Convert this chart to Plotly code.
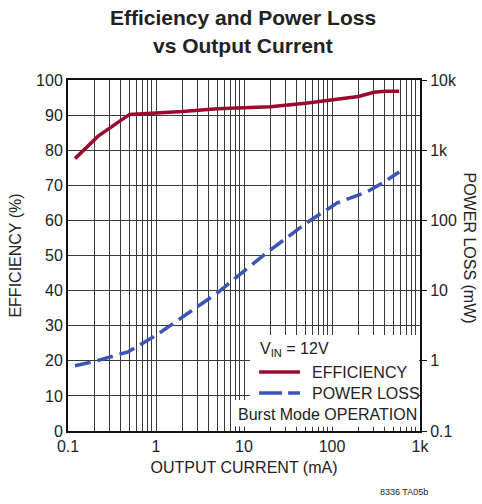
import plotly.graph_objects as go

# Output current (mA) and measured efficiency (%)
eff_current = [0.12, 0.22, 0.5, 1, 2, 5, 10, 20, 50, 100, 200, 300, 400, 580]
efficiency = [77.6, 84.0, 90.2, 90.6, 91.0, 91.8, 92.2, 92.4, 93.4, 94.4, 95.3, 96.5, 96.8, 96.8]

# Output current (mA) and power loss (mW)
loss_current = [0.12, 0.2, 0.48, 1, 2, 5, 10, 20, 50, 115, 250, 380, 580]
power_loss = [0.85, 0.98, 1.34, 2.3, 4.2, 9.3, 19, 38, 90, 178, 256, 345, 490]

x_tickvals = [0.1, 1, 10, 100, 1000]
x_ticktext = ["0.1", "1", "10", "100", "1k"]
y2_tickvals = [0.1, 1, 10, 100, 1000, 10000]
y2_ticktext = ["0.1", "1", "10", "100", "1k", "10k"]

# 2..9 subdivisions of every decade on the current axis
x_minor = [m * 10.0 ** e for e in range(-1, 3) for m in range(2, 10)]

FONT = "Liberation Sans, Arial, sans-serif"
GRID = "#3a3a3a"
EFF_COLOR = "#9b0a2e"
LOSS_COLOR = "#3a55b4"

fig = go.Figure()
fig.add_trace(go.Scatter(
    x=eff_current, y=efficiency, mode="lines", name="EFFICIENCY",
    line=dict(color=EFF_COLOR, width=3.5), yaxis="y",
))
fig.add_trace(go.Scatter(
    x=loss_current, y=power_loss, mode="lines", name="POWER LOSS",
    line=dict(color=LOSS_COLOR, width=3.5, dash="16px,7px"), yaxis="y2",
))

fig.update_layout(
    width=482, height=504,
    margin=dict(l=68, r=62, t=80, b=73),
    paper_bgcolor="white", plot_bgcolor="white",
    font=dict(family=FONT, size=16, color="#222"),
    showlegend=False,
    xaxis=dict(
        type="log", range=[-1, 3],
        tickvals=x_tickvals, ticktext=x_ticktext,
        ticks="inside", ticklen=4, tickcolor=GRID,
        showgrid=True, gridcolor=GRID, gridwidth=1,
        minor=dict(tickmode="array", tickvals=x_minor,
                   showgrid=True, gridcolor=GRID, gridwidth=1,
                   ticks="inside", ticklen=4, tickcolor=GRID),
        showline=True, linecolor="#111", linewidth=2, mirror=True,
        title=dict(text="OUTPUT CURRENT (mA)", standoff=8, font=dict(size=16)),
        tickfont=dict(size=16), zeroline=False,
    ),
    yaxis=dict(
        range=[0, 100], tickvals=list(range(0, 101, 10)),
        showgrid=True, gridcolor=GRID, gridwidth=1,
        showline=True, linecolor="#111", linewidth=2, mirror=True,
        ticks="", title=dict(text="EFFICIENCY (%)", standoff=10, font=dict(size=16)),
        tickfont=dict(size=16), zeroline=False,
    ),
    yaxis2=dict(
        type="log", range=[-1, 4], overlaying="y", side="right",
        tickvals=y2_tickvals, ticktext=y2_ticktext,
        ticks="outside", ticklen=5, tickcolor="#111",
        showgrid=False, showline=True, linecolor="#111", linewidth=2,
        tickfont=dict(size=16), zeroline=False,
    ),
)

# Two-line bold heading
fig.add_annotation(text="<b>Efficiency and Power Loss</b>", xref="paper", yref="paper",
                   x=0.497, y=1.179, xanchor="center", yanchor="middle",
                   showarrow=False, font=dict(size=21))
fig.add_annotation(text="<b>vs Output Current</b>", xref="paper", yref="paper",
                   x=0.497, y=1.0997, xanchor="center", yanchor="middle",
                   showarrow=False, font=dict(size=21))

# Right-hand axis title, reading top to bottom
fig.add_annotation(text="POWER LOSS (mW)", xref="paper", yref="paper",
                   x=1.142, y=0.52, xanchor="center", yanchor="middle",
                   textangle=90, showarrow=False, font=dict(size=16))

# White panel behind the key; it stops just above the bottom ticks
fig.add_shape(type="rect", xref="paper", yref="paper", layer="above",
              x0=0.517, x1=0.997, y0=0.0125, y1=0.2735,
              fillcolor="white", line=dict(width=0))
fig.add_shape(type="rect", xref="paper", yref="paper", layer="above",
              x0=0.466, x1=0.997, y0=0.0125, y1=0.088,
              fillcolor="white", line=dict(width=0))

# Key
fig.add_annotation(text="V<sub>IN</sub> = 12V", xref="paper", yref="paper",
                   x=0.540, y=0.231, xanchor="left", yanchor="middle",
                   showarrow=False, font=dict(size=16))
fig.add_shape(type="line", xref="paper", yref="paper", layer="above",
              x0=0.543, x1=0.659, y0=0.168, y1=0.168,
              line=dict(color=EFF_COLOR, width=3.5))
fig.add_annotation(text="EFFICIENCY", xref="paper", yref="paper",
                   x=0.6875, y=0.166, xanchor="left", yanchor="middle",
                   showarrow=False, font=dict(size=16))
fig.add_shape(type="line", xref="paper", yref="paper", layer="above",
              x0=0.543, x1=0.659, y0=0.108, y1=0.108,
              line=dict(color=LOSS_COLOR, width=3.5, dash="23px,6px"))
fig.add_annotation(text="POWER LOSS", xref="paper", yref="paper",
                   x=0.6875, y=0.106, xanchor="left", yanchor="middle",
                   showarrow=False, font=dict(size=16))
fig.add_annotation(text="Burst Mode OPERATION", xref="paper", yref="paper",
                   x=0.997, y=0.047, xanchor="right", yanchor="middle",
                   showarrow=False, font=dict(size=16))

fig.add_annotation(text="8336 TA05b", xref="paper", yref="paper",
                   x=1.028, y=-0.174, xanchor="right", yanchor="middle",
                   showarrow=False, font=dict(size=9))

fig.write_html("out.html")
